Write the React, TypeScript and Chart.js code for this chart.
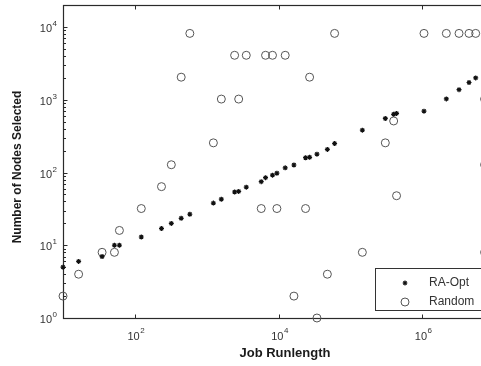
import React, { useEffect, useRef } from 'react';
import { Chart, registerables } from 'chart.js';

Chart.register(...registerables);

// Job runlengths shared by both series
const jobRunlengths = [
  10, 16.5, 35, 52, 61, 123, 235, 322, 442, 583, 1240, 1600, 2450, 2790, 3560,
  5750, 6600, 8250, 9500, 12400, 16400, 23800, 27100, 34300, 47900, 60400,
  147000, 307000, 401000, 440000, 1060000, 2170000, 3260000, 4490000, 5560000,
];
const raOptNodes = [
  5, 6, 7, 10, 10, 13, 17, 20, 23.5, 26.7, 38, 43, 54, 55, 63, 75, 85, 92, 98,
  116, 127, 160, 162, 179, 208, 251, 383, 554, 632, 650, 698, 1030, 1380, 1730, 2000,
];
const randomNodes = [
  2, 4, 8, 8, 16, 32, 64, 128, 2048, 8192, 256, 1024, 4096, 1024, 4096, 32,
  4096, 4096, 32, 4096, 2, 32, 2048, 1, 4, 8192, 8, 256, 512, 48, 8192, 8192,
  8192, 8192, 8192,
];
// Random points sitting at the cropped right edge
const edgeRunlengths = [7400000, 7400000, 7400000];
const edgeRandomNodes = [1024, 128, 8];

const xTickValues = [1e2, 1e4, 1e6];
const xTickExponents = ['2', '4', '6'];
const yTickValues = [1, 10, 100, 1000, 10000];
const yTickExponents = ['0', '1', '2', '3', '4'];
const legendLabels = ['RA-Opt', 'Random'];
const xTitle = 'Job Runlength';
const yTitle = 'Number of Nodes Selected';

const FONT = '"Liberation Sans", Arial, sans-serif';

const drawStar = (ctx: CanvasRenderingContext2D, x: number, y: number, r: number) => {
  ctx.beginPath();
  ctx.moveTo(x - r, y);
  ctx.lineTo(x + r, y);
  ctx.moveTo(x, y - r);
  ctx.lineTo(x, y + r);
  const d = r * 0.7;
  ctx.moveTo(x - d, y - d);
  ctx.lineTo(x + d, y + d);
  ctx.moveTo(x - d, y + d);
  ctx.lineTo(x + d, y - d);
  ctx.stroke();
};

const framePlugin = {
  id: 'matlabFrame',
  beforeDatasetsDraw(chart: any) {
    const ctx: CanvasRenderingContext2D = chart.ctx;
    const { left, right, top, bottom } = chart.chartArea;
    const xs = chart.scales.x;
    const ys = chart.scales.y;
    const L = Math.round(left) + 0.5;
    const B = Math.round(bottom) + 0.5;
    const T = Math.round(top) + 0.5;
    const R = Math.round(right) + 0.5;
    ctx.save();
    ctx.strokeStyle = '#2a2a2a';
    ctx.lineWidth = 1.2;
    ctx.strokeRect(L, T, R - L, B - T);

    ctx.lineWidth = 1;
    ctx.beginPath();
    xTickValues.forEach((v) => {
      const px = Math.round(xs.getPixelForValue(v)) + 0.5;
      ctx.moveTo(px, B);
      ctx.lineTo(px, B - 4);
      ctx.moveTo(px, T);
      ctx.lineTo(px, T + 4);
    });
    const yMax = ys.max;
    for (let d = 0; d <= 4; d++) {
      for (let m = 1; m <= 9; m++) {
        const v = m * Math.pow(10, d);
        if (v > yMax) continue;
        const py = Math.round(ys.getPixelForValue(v)) + 0.5;
        const len = m === 1 ? 4 : 2.5;
        ctx.moveTo(L, py);
        ctx.lineTo(L + len, py);
        ctx.moveTo(R, py);
        ctx.lineTo(R - len, py);
      }
    }
    ctx.stroke();

    // tick labels
    ctx.fillStyle = '#333';
    ctx.textBaseline = 'alphabetic';
    const baseFont = `11px ${FONT}`;
    const expFont = `8px ${FONT}`;
    xTickValues.forEach((v, i) => {
      const px = xs.getPixelForValue(v);
      ctx.font = baseFont;
      const w = ctx.measureText('10').width;
      ctx.font = expFont;
      const we = ctx.measureText(xTickExponents[i]).width;
      const start = px - (w + we) / 2 + 1;
      ctx.font = baseFont;
      ctx.textAlign = 'left';
      ctx.fillText('10', start, 340);
      ctx.font = expFont;
      ctx.fillText(xTickExponents[i], start + w + 0.5, 333);
    });
    yTickValues.forEach((v, i) => {
      const py = ys.getPixelForValue(v);
      ctx.font = expFont;
      const we = ctx.measureText(yTickExponents[i]).width;
      ctx.textAlign = 'right';
      ctx.fillText(yTickExponents[i], 57, py - 1);
      ctx.font = baseFont;
      ctx.fillText('10', 57 - we - 0.5, py + 5);
    });

    // axis titles
    ctx.fillStyle = '#1a1a1a';
    ctx.font = `bold 13px ${FONT}`;
    ctx.textAlign = 'center';
    ctx.textBaseline = 'middle';
    ctx.fillText(xTitle, 285, 353);
    ctx.save();
    ctx.translate(18, 167);
    ctx.rotate(-Math.PI / 2);
    ctx.font = `bold 12px ${FONT}`;
    ctx.fillText(yTitle, 0, 0);
    ctx.restore();
    ctx.restore();
  },
  afterDatasetsDraw(chart: any) {
    const ctx: CanvasRenderingContext2D = chart.ctx;
    ctx.save();
    const bx = 375.5;
    const by = 268.5;
    const bw = 200;
    const bh = 42;
    ctx.fillStyle = '#fff';
    ctx.fillRect(bx, by, bw, bh);
    ctx.strokeStyle = '#333';
    ctx.lineWidth = 1;
    ctx.strokeRect(bx, by, bw, bh);
    ctx.strokeStyle = '#111';
    ctx.lineWidth = 1.2;
    drawStar(ctx, 405, 283, 2.4);
    ctx.strokeStyle = '#555';
    ctx.lineWidth = 1;
    ctx.beginPath();
    ctx.arc(405, 302, 4, 0, Math.PI * 2);
    ctx.stroke();
    ctx.fillStyle = '#333';
    ctx.font = `12px ${FONT}`;
    ctx.textAlign = 'left';
    ctx.textBaseline = 'middle';
    ctx.fillText(legendLabels[0], 429, 283);
    ctx.fillText(legendLabels[1], 429, 302);
    ctx.restore();
  },
};

export default function App() {
  const canvasRef = useRef<HTMLCanvasElement | null>(null);

  useEffect(() => {
    if (!canvasRef.current) return;
    const raData = jobRunlengths.map((x, i) => ({ x, y: raOptNodes[i] }));
    const randomData = jobRunlengths
      .map((x, i) => ({ x, y: randomNodes[i] }))
      .concat(edgeRunlengths.map((x, i) => ({ x, y: edgeRandomNodes[i] })));
    const chart = new Chart(canvasRef.current, {
      type: 'scatter',
      data: {
        datasets: [
          {
            label: legendLabels[0],
            data: raData,
            pointStyle: 'star',
            pointRadius: 2.5,
            pointBorderWidth: 1.2,
            borderColor: '#111',
            backgroundColor: '#111',
            clip: false,
          } as any,
          {
            label: legendLabels[1],
            data: randomData,
            pointStyle: 'circle',
            pointRadius: 4,
            pointBorderWidth: 1,
            borderColor: '#555',
            backgroundColor: 'rgba(0,0,0,0)',
            clip: false,
          } as any,
        ],
      },
      options: {
        responsive: false,
        maintainAspectRatio: false,
        animation: false,
        devicePixelRatio: 1,
        layout: { padding: { left: 63, right: 26, top: 5, bottom: 48 } },
        scales: {
          x: { type: 'logarithmic', min: 10, max: 1e7, display: false },
          y: { type: 'logarithmic', min: 1, max: 2e4, display: false },
        },
        plugins: {
          legend: { display: false },
          tooltip: { enabled: false },
        },
      },
      plugins: [framePlugin],
    });
    return () => chart.destroy();
  }, []);

  return (
    <div
      style={{
        position: 'fixed',
        left: 0,
        top: 0,
        width: 481,
        height: 366,
        overflow: 'hidden',
        background: '#fff',
      }}
    >
      <canvas ref={canvasRef} width={520} height={366} style={{ display: 'block' }} />
    </div>
  );
}
